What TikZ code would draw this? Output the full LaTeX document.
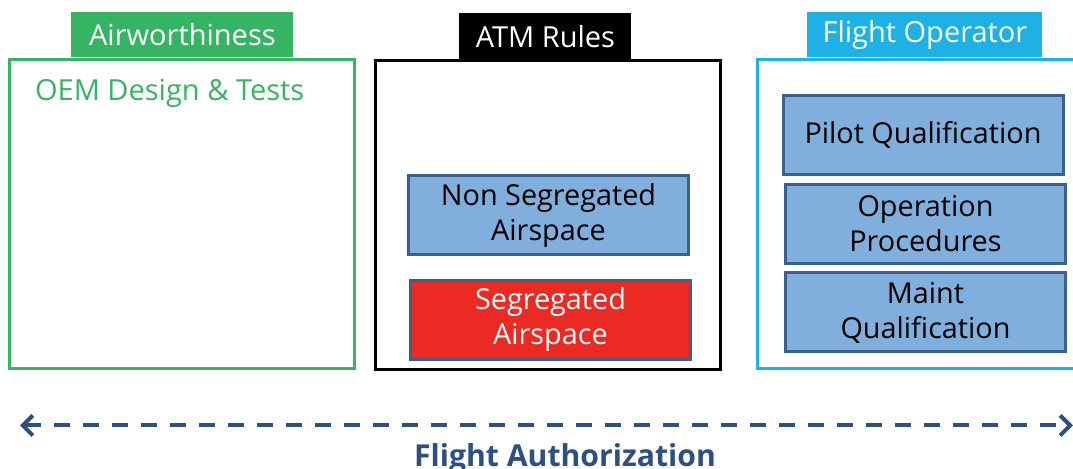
\documentclass[tikz,border=0pt]{standalone}
\usepackage{fontspec}
\setmainfont{Open Sans}
\usetikzlibrary{arrows.meta}
\definecolor{gcol}{RGB}{53,181,100}
\definecolor{ccol}{RGB}{29,177,230}
\definecolor{bfill}{RGB}{128,174,221}
\definecolor{bline}{RGB}{60,96,142}
\definecolor{rfill}{RGB}{236,42,36}
\definecolor{acol}{RGB}{44,80,132}
\tikzset{every picture/.style={x=0.5pt,y=-0.5pt}}
\tikzset{tab/.style={anchor=north west,inner sep=0pt,font=\fontsize{14.5}{17}\selectfont,text=white}}
\tikzset{frame/.style={anchor=north west,draw,line width=1.5pt,inner sep=0pt}}
\tikzset{item/.style={anchor=north west,draw=bline,fill=bfill,line width=1.5pt,inner sep=0pt,
  align=center,font=\fontsize{14.4}{17.5}\selectfont,minimum width=140pt,minimum height=39.5pt}}
\tikzset{edge/.style={{Straight Barb[length=5pt,width=10pt,line width=2pt]}-{Straight Barb[length=5pt,width=10pt,line width=2pt]},
  line width=2pt,dash pattern=on 8pt off 6.5pt}}

\begin{document}
\begin{tikzpicture}
\useasboundingbox (0,0) rectangle (1073,469);

\node [frame,gcol,minimum width=172.5pt,minimum height=154.5pt] (aw) at (8,58.5) {};
\node [tab,fill=gcol,minimum width=111pt,minimum height=22.5pt] (awt) at (71,12) {Airworthiness};
\node [anchor=west,text=gcol,font=\fontsize{14.5}{17}\selectfont] (oem) at (28,93) {OEM Design \& Tests};

\node [frame,black,minimum width=172.5pt,minimum height=154.5pt] (atm) at (373.5,59.5) {};
\node [tab,fill=black,minimum width=86pt,minimum height=23pt] (atmt) at (459,13) {ATM Rules};
\node [item] (nsa) at (407,174.5) {Non Segregated\\Airspace};
\node [item,fill=rfill,text=white] (sa) at (409,279) {Segregated\\Airspace};

\node [frame,ccol,minimum width=170pt,minimum height=154.5pt] (fo) at (755.5,58.5) {};
\node [tab,fill=ccol,minimum width=117.5pt,minimum height=22.5pt] (fot) at (807,12) {Flight Operator};
\node [item] (pq) at (781.5,94) {Pilot Qualification};
\node [item] (op) at (784,183) {Operation\\Procedures};
\node [item] (mq) at (784,271.5) {Maint\\Qualification};

\coordinate (l) at (20,425.5);
\coordinate (r) at (1073,425.5);
\draw [acol,edge] (l) -- (r);

\node [anchor=north,text=acol,font=\bfseries\fontsize{15.1}{20}\selectfont,inner sep=0pt] (fa) at (565,443) {Flight Authorization};
\end{tikzpicture}
\end{document}
